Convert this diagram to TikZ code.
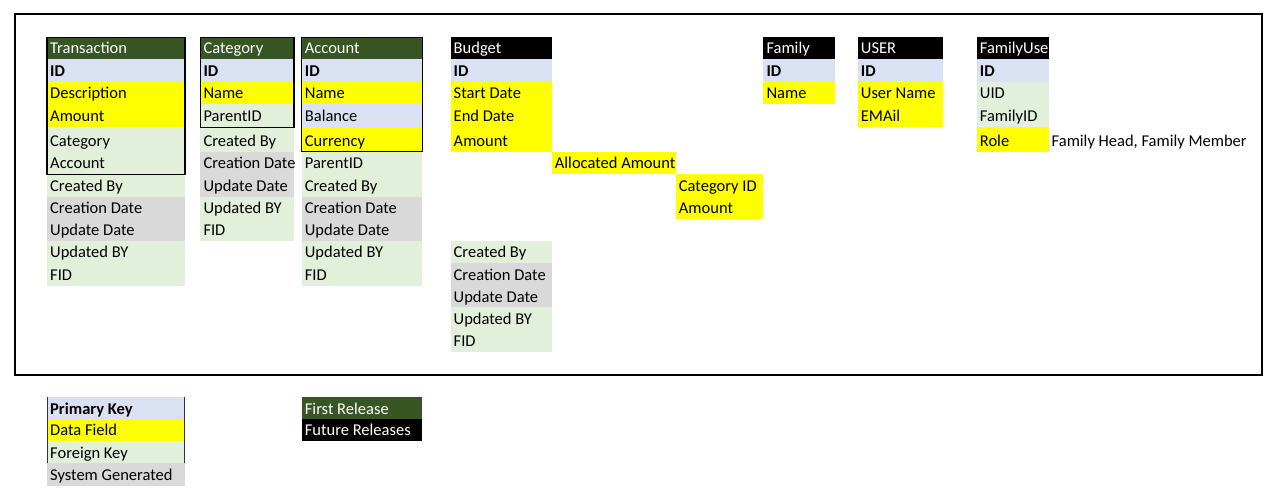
\documentclass[tikz,border=0pt]{standalone}
\usepackage{fontspec}
\setmainfont{Carlito}
\definecolor{hdrgreen}{HTML}{375623}
\definecolor{pkblue}{HTML}{D9E1F2}
\definecolor{dfyellow}{HTML}{FFFF00}
\definecolor{fkgreen}{HTML}{E2EFDA}
\definecolor{sysgray}{HTML}{D9D9D9}
\tikzset{
  celltext/.style={anchor=base west, inner sep=0pt, font=\fontsize{16.5}{19.5}\selectfont},
  tblborder/.style={draw=black, line width=1.5pt},
  frameline/.style={draw=black, line width=1.6pt},
  legendedge/.style={draw=black!80, line width=1pt}
}
% name, x1, x2, top, bottom, fill, text
\newcommand\ercell[7]{%
  \fill[#6] (#2,#4) rectangle (#3,#5);
  \node[celltext] (#1) at (#2+3,#5-5.3) {#7};}
\newcommand\hw[1]{\textcolor{white}{#1}}
\begin{document}
\begin{tikzpicture}[x=1pt,y=-1pt]
\useasboundingbox (0,0) rectangle (1280,497);
\fill[white] (0,0) rectangle (1280,497);
\def\yA{37.3}\def\yB{59.3}\def\yC{81.7}\def\yD{104}\def\yE{127.3}
\def\yF{151.7}\def\yG{174.3}\def\yH{196.7}\def\yI{218.7}\def\yJ{240.7}
\def\yK{263.3}\def\yL{285.5}\def\yM{307.3}\def\yN{329.3}\def\yO{351.5}
% outer frame
\draw[frameline] (15,14) rectangle (1262,375);
% Transaction
\ercell{t0}{47}{185}{\yA}{\yB}{hdrgreen}{\hw{Transaction}}
\ercell{t1}{47}{185}{\yB}{\yC}{pkblue}{\textbf{ID}}
\ercell{t2}{47}{185}{\yC}{\yD}{dfyellow}{Description}
\ercell{t3}{47}{185}{\yD}{\yE}{dfyellow}{Amount}
\ercell{t4}{47}{185}{\yE}{\yF}{fkgreen}{Category}
\ercell{t5}{47}{185}{\yF}{\yG}{fkgreen}{Account}
\ercell{t6}{47}{185}{\yG}{\yH}{fkgreen}{Created By}
\ercell{t7}{47}{185}{\yH}{\yI}{sysgray}{Creation Date}
\ercell{t8}{47}{185}{\yI}{\yJ}{sysgray}{Update Date}
\ercell{t9}{47}{185}{\yJ}{\yK}{fkgreen}{Updated BY}
\ercell{t10}{47}{185}{\yK}{\yL}{fkgreen}{FID}
\draw[tblborder] (47,\yA) rectangle (185,\yG);
% Category
\ercell{c0}{200.3}{293.8}{\yA}{\yB}{hdrgreen}{\hw{Category}}
\ercell{c1}{200.3}{293.8}{\yB}{\yC}{pkblue}{\textbf{ID}}
\ercell{c2}{200.3}{293.8}{\yC}{\yD}{dfyellow}{Name}
\ercell{c3}{200.3}{293.8}{\yD}{\yE}{fkgreen}{ParentID}
\ercell{c4}{200.3}{293.8}{\yE}{\yF}{fkgreen}{Created By}
\ercell{c5}{200.3}{293.8}{\yF}{\yG}{sysgray}{Creation Date}
\ercell{c6}{200.3}{293.8}{\yG}{\yH}{sysgray}{Update Date}
\ercell{c7}{200.3}{293.8}{\yH}{\yI}{fkgreen}{Updated BY}
\ercell{c8}{200.3}{293.8}{\yI}{\yJ}{fkgreen}{FID}
\draw[tblborder] (200.3,\yA) rectangle (293.8,\yE);
% Account
\ercell{a0}{301.7}{422.3}{\yA}{\yB}{hdrgreen}{\hw{Account}}
\ercell{a1}{301.7}{422.3}{\yB}{\yC}{pkblue}{\textbf{ID}}
\ercell{a2}{301.7}{422.3}{\yC}{\yD}{dfyellow}{Name}
\ercell{a3}{301.7}{422.3}{\yD}{\yE}{pkblue}{Balance}
\ercell{a4}{301.7}{422.3}{\yE}{\yF}{dfyellow}{Currency}
\ercell{a5}{301.7}{422.3}{\yF}{\yG}{fkgreen}{ParentID}
\ercell{a6}{301.7}{422.3}{\yG}{\yH}{fkgreen}{Created By}
\ercell{a7}{301.7}{422.3}{\yH}{\yI}{sysgray}{Creation Date}
\ercell{a8}{301.7}{422.3}{\yI}{\yJ}{sysgray}{Update Date}
\ercell{a9}{301.7}{422.3}{\yJ}{\yK}{fkgreen}{Updated BY}
\ercell{a10}{301.7}{422.3}{\yK}{\yL}{fkgreen}{FID}
\draw[tblborder] (301.7,\yA) rectangle (422.3,\yF);
% Budget
\ercell{b0}{450.5}{551.7}{\yA}{\yB}{black}{\hw{Budget}}
\ercell{b1}{450.5}{551.7}{\yB}{\yC}{pkblue}{\textbf{ID}}
\ercell{b2}{450.5}{551.7}{\yC}{\yD}{dfyellow}{Start Date}
\ercell{b3}{450.5}{551.7}{\yD}{\yE}{dfyellow}{End Date}
\ercell{b4}{450.5}{551.7}{\yE}{\yF}{dfyellow}{Amount}
\ercell{b5}{551.7}{675.7}{\yF}{\yG}{dfyellow}{Allocated Amount}
\ercell{b6}{675.7}{763.3}{\yG}{\yH}{dfyellow}{Category ID}
\ercell{b7}{675.7}{763.3}{\yH}{\yI}{dfyellow}{Amount}
\ercell{b8}{450.5}{551.7}{\yJ}{\yK}{fkgreen}{Created By}
\ercell{b9}{450.5}{551.7}{\yK}{\yL}{sysgray}{Creation Date}
\ercell{b10}{450.5}{551.7}{\yL}{\yM}{sysgray}{Update Date}
\ercell{b11}{450.5}{551.7}{\yM}{\yN}{fkgreen}{Updated BY}
\ercell{b12}{450.5}{551.7}{\yN}{\yO}{fkgreen}{FID}
% Family
\ercell{f0}{763.3}{835}{\yA}{\yB}{black}{\hw{Family}}
\ercell{f1}{763.3}{835}{\yB}{\yC}{pkblue}{\textbf{ID}}
\ercell{f2}{763.3}{835}{\yC}{\yD}{dfyellow}{Name}
% USER
\ercell{u0}{857.7}{942.7}{\yA}{\yB}{black}{\hw{USER}}
\ercell{u1}{857.7}{942.7}{\yB}{\yC}{pkblue}{\textbf{ID}}
\ercell{u2}{857.7}{942.7}{\yC}{\yD}{dfyellow}{User Name}
\ercell{u3}{857.7}{942.7}{\yD}{\yE}{dfyellow}{EMAil}
% FamilyUse
\ercell{fu0}{976.7}{1049}{\yA}{\yB}{black}{\hw{FamilyUse}}
\ercell{fu1}{976.7}{1049}{\yB}{\yC}{pkblue}{\textbf{ID}}
\ercell{fu2}{976.7}{1049}{\yC}{\yD}{fkgreen}{UID}
\ercell{fu3}{976.7}{1049}{\yD}{\yE}{fkgreen}{FamilyID}
\ercell{fu4}{976.7}{1049}{\yE}{\yF}{dfyellow}{Role}
\node[celltext] (note) at (1051.5,\yF-5.3) {Family Head, Family Member};
% Legend: key types
\ercell{l1}{47}{184.5}{397}{419.3}{pkblue}{\textbf{Primary Key}}
\ercell{l2}{47}{184.5}{419.3}{441}{dfyellow}{Data Field}
\ercell{l3}{47}{184.5}{441}{463.3}{fkgreen}{Foreign Key}
\ercell{l4}{47}{184.5}{463.3}{485.7}{sysgray}{System Generated}
\draw[legendedge] (47,397) -- (47,463.3) (184.5,397) -- (184.5,463.3);
% Legend: releases
\ercell{r1}{301.7}{422}{397}{419.3}{hdrgreen}{\hw{First Release}}
\ercell{r2}{301.7}{422}{419.3}{441}{black}{\hw{Future Releases}}
\end{tikzpicture}
\end{document}
